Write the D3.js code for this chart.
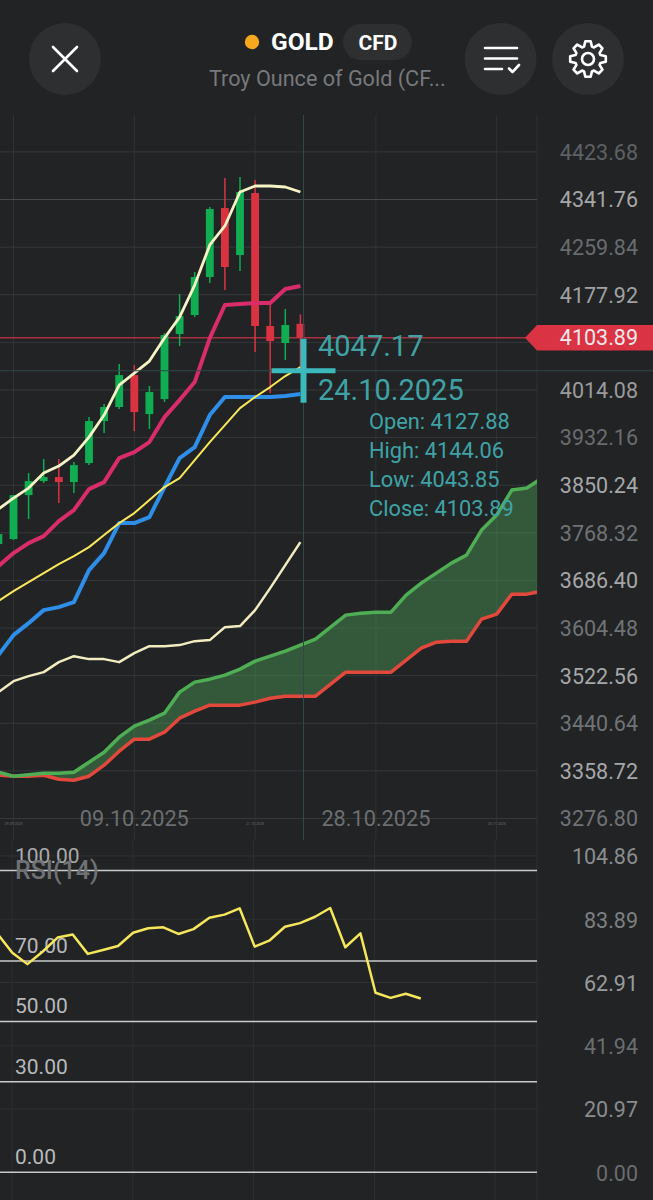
<!DOCTYPE html>
<html><head><meta charset="utf-8">
<script src="https://cdnjs.cloudflare.com/ajax/libs/d3/7.8.5/d3.min.js"></script>
<style>html,body{margin:0;padding:0;background:#212325;overflow:hidden}svg{display:block}text{font-family:Roboto,sans-serif}</style>
</head><body><svg id="c" width="653" height="1200"></svg>
<script>
// ---- data ----
const candleStart = -1;
const opens  = [3748.9,3757.5,3833.2,3857.3,3864.2,3855.6,3888.3,3960.6,3984.7,4039.7,3972.6,3998.4,4110.3,4143.0,4208.4,4327.1,4246.2,4352.9,4124.1,4094.8,4127.88];
const highs  = [3766.1,3833.2,3871.1,3895.2,3895.2,3890.0,3967.4,3989.8,4058.7,4056.9,4020.8,4112.0,4179.1,4217.0,4328.9,4378.8,4380.5,4375.3,4163.6,4153.3,4144.06];
const lows   = [3748.9,3755.8,3791.9,3853.9,3819.4,3836.6,3884.8,3939.9,3981.2,3943.3,3946.8,3993.3,4089.6,4139.5,4198.1,4186.0,4218.7,4079.3,4008.7,4065.5,4043.85];
const closes = [3766.1,3833.2,3857.3,3864.2,3855.6,3884.8,3960.6,3984.7,4039.7,3976.0,4010.5,4108.6,4141.3,4208.4,4325.4,4225.6,4354.7,4124.1,4098.2,4125.8,4103.89];
const fastMA = [3809.1,3828.0,3845.3,3871.1,3883.1,3902.0,3933.0,3970.9,4022.5,4043.2,4063.8,4103.4,4139.5,4194.6,4263.5,4296.2,4354.7,4365.0,4365.0,4363.3,4354.7];
const pinkMA = [3711.0,3733.4,3750.6,3762.6,3788.5,3807.4,3843.5,3855.6,3896.9,3907.2,3924.4,3967.4,3996.7,4027.7,4103.4,4160.2,4161.9,4163.6,4163.6,4187.7,4192.9];
const yellowMA = [3650.8,3668.0,3683.5,3699.0,3714.5,3728.2,3743.7,3764.4,3785.0,3802.2,3824.6,3847.0,3862.5,3893.4,3924.4,3953.7,3982.9,4001.9,4019.1,4038.0,4053.5];
const blueMA = [3557.8,3592.3,3612.9,3635.3,3640.5,3649.1,3704.1,3733.4,3785.0,3785.0,3795.3,3847.0,3896.9,3915.8,3970.9,4001.9,4001.9,4001.9,4001.9,4003.6,4007.0];
const slowMA = [3494.2,3513.1,3521.7,3528.6,3545.8,3556.1,3551.0,3551.0,3545.8,3561.3,3573.3,3573.3,3575.1,3581.9,3583.7,3606.0,3607.8,3635.3,3673.2,3712.7,3752.3];
const spanA = [3356.5,3349.6,3352.2,3354.8,3354.8,3356.5,3373.7,3390.9,3416.7,3435.7,3446.0,3458.0,3494.2,3511.4,3516.5,3523.4,3533.8,3547.5,3556.1,3564.7,3575.1,3585.4,3606.0,3626.7,3630.1,3631.8,3631.8,3661.1,3681.8,3699.0,3716.2,3729.9,3773.0,3798.8,3841.8,3845.3,3862.5];
const spanB = [3351.3,3349.6,3349.6,3351.3,3344.4,3342.7,3349.6,3368.5,3392.6,3413.3,3413.3,3425.3,3449.4,3461.5,3471.8,3471.8,3471.8,3477.0,3483.8,3487.3,3487.3,3487.3,3507.9,3528.6,3528.6,3528.6,3528.6,3549.2,3569.9,3580.2,3581.9,3581.9,3619.8,3628.4,3662.8,3662.8,3668.0];
const rsi = [79.2,72.8,69.0,73.1,77.8,78.8,72.4,73.7,75.0,79.4,80.9,81.2,79.0,80.6,84.4,85.4,87.5,74.8,76.9,81.4,82.6,84.7,87.6,74.6,79.2,59.5,57.8,59.2,57.6];
const priceTicks = [4423.68,4341.76,4259.84,4177.92,4096.00,4014.08,3932.16,3850.24,3768.32,3686.40,3604.48,3522.56,3440.64,3358.72,3276.80];
const priceTickColors = ["#5e6163","#a6a7a8","#696c6e","#a0a1a2",null,"#9a9b9c","#696c6e","#a6a7a8","#707375","#a6a7a8","#707375","#a6a7a8","#707375","#a6a7a8","#707375"];
const rsiAxisTicks = [104.86,83.89,62.91,41.94,20.97,0.00];
const rsiAxisColors = ["#8a8c8e","#7d8082","#9a9b9c","#6a6d6f","#8a8c8e","#6a6d6f"];
const rsiLevels = [100,70,50,30,0];
const gridBars = [0,8,16,24,32];
const bigDates = [["09.10.2025",8],["28.10.2025",24]];
const tinyDates = [["29.09.2025",0],["21.10.2025",16],["20.11.2025",32]];
const lastPrice = 4103.89, crossPrice = 4047.17, crossDate = "24.10.2025";
const ohlcLabels = ["Open: 4127.88","High: 4144.06","Low: 4043.85","Close: 4103.89"];

// ---- scales ----
const x = d3.scaleLinear().domain([0,32]).range([13.5,13.5+15.1*32]);
const y = d3.scaleLinear().domain([3276.80,4341.76]).range([818.5,199.5]);
const yR = d3.scaleLinear().domain([0,100]).range([1172.3,870.6]);
const svg = d3.select("#c");
const R = 537, W = 653;
svg.append("rect").attr("width",W).attr("height",1200).attr("fill","#212325");
svg.append("defs").append("clipPath").attr("id","plot").append("rect").attr("x",0).attr("y",115).attr("width",R).attr("height",725);

// ---- grid ----
const g = svg.append("g");
g.selectAll(".vt").data(gridBars).join("line").attr("x1",d=>x(d)).attr("x2",d=>x(d)).attr("y1",115).attr("y2",840).attr("stroke","#2f3336").attr("stroke-width",1);
g.selectAll(".vb").data(gridBars).join("line").attr("x1",d=>x(d)-1.5).attr("x2",d=>x(d)-1.5).attr("y1",840).attr("y2",1200).attr("stroke","#2d3032").attr("stroke-width",1);
g.append("line").attr("x1",R).attr("x2",R).attr("y1",115).attr("y2",1200).attr("stroke","#2f3336");
g.selectAll(".hp").data(priceTicks).join("line").attr("x1",0).attr("x2",R).attr("y1",d=>y(d)).attr("y2",d=>y(d)).attr("stroke",(d,i)=>i==1?"#45494b":"#36393b").attr("stroke-width",1);
g.selectAll(".hr").data(rsiAxisTicks.slice(0,5)).join("line").attr("x1",0).attr("x2",R).attr("y1",d=>yR(d)).attr("y2",d=>yR(d)).attr("stroke","#2e3133").attr("stroke-width",1);

// ---- cloud ----
const plot = svg.append("g").attr("clip-path","url(#plot)");
const ks = spanA.map((_,i)=>i-1);
plot.append("path").attr("d",d3.area().x(k=>x(k)).y0(k=>y(spanB[k+1])).y1(k=>y(spanA[k+1]))(ks)).attr("fill","rgb(73,155,84)").attr("fill-opacity",.45);

// current-price line
plot.append("line").attr("x1",0).attr("x2",530).attr("y1",y(lastPrice)).attr("y2",y(lastPrice)).attr("stroke","#a8323f").attr("stroke-width",1.5);

// ---- candles ----
const cs = opens.map((o,i)=>({k:i+candleStart,o,h:highs[i],l:lows[i],c:closes[i]}));
const col = d=>d.c>=d.o?"#10ad52":"#d93342";
const bw = x(0.52)-x(0);
plot.selectAll(".w").data(cs).join("line").attr("x1",d=>x(d.k)).attr("x2",d=>x(d.k)).attr("y1",d=>y(d.h)).attr("y2",d=>y(d.l)).attr("stroke",col).attr("stroke-width",1.5);
plot.selectAll(".b").data(cs).join("rect").attr("x",d=>x(d.k)-bw/2).attr("width",bw).attr("y",d=>y(Math.max(d.o,d.c))).attr("height",d=>Math.max(1,Math.abs(y(d.o)-y(d.c)))).attr("fill",col);

// ---- lines ----
const lineFrom = (arr,start)=>d3.line().x((d,i)=>x(i+start)).y(d=>y(d))(arr);
[[spanB,"#e2483b",3.5],[spanA,"#4fae54",3.5],[slowMA,"#f2ecc0",2.5],[blueMA,"#2f8fe8",4],[yellowMA,"#fbe85a",2],[pinkMA,"#d92c6b",4],[fastMA,"#f6f3c4",2.8]].forEach(([a,c,w])=>{
  plot.append("path").attr("d",lineFrom(a,-1)).attr("fill","none").attr("stroke",c).attr("stroke-width",w).attr("stroke-linejoin","round");
});

// ---- crosshair ----
const cx = 303.5, cy = y(crossPrice);
svg.append("line").attr("x1",cx).attr("x2",cx).attr("y1",115).attr("y2",840).attr("stroke","#314749").attr("stroke-width",1);
svg.append("line").attr("x1",0).attr("x2",W).attr("y1",cy).attr("y2",cy).attr("stroke","#314749").attr("stroke-width",1);
svg.append("line").attr("x1",cx).attr("x2",cx).attr("y1",cy-32).attr("y2",cy+32).attr("stroke","#3cb9bc").attr("stroke-width",6);
svg.append("line").attr("x1",cx-32).attr("x2",cx+32).attr("y1",cy).attr("y2",cy).attr("stroke","#3cb9bc").attr("stroke-width",5);
const teal="#3fa3a6";
svg.append("text").attr("x",318).attr("y",356).attr("font-size",29).attr("fill",teal).text(d3.format(".2f")(crossPrice));
svg.append("text").attr("x",318).attr("y",400).attr("font-size",29).attr("fill",teal).text(crossDate);
svg.selectAll(".o").data(ohlcLabels).join("text").attr("x",369).attr("y",(d,i)=>[429,458,487,516][i]).attr("font-size",21.8).attr("fill",teal).text(d=>d);

// ---- price axis ----
const pa = d3.axisRight(y).tickValues(priceTicks.filter((d,i)=>priceTickColors[i])).tickFormat(d3.format(".2f")).tickSize(0).tickPadding(0);
const pg = svg.append("g").attr("transform","translate(638,0.5)").call(pa);
pg.select(".domain").remove();
pg.selectAll("text").attr("x",0).attr("text-anchor","end").attr("font-size",21.5).attr("font-family","Roboto").attr("fill",d=>priceTickColors[priceTicks.indexOf(d)]);

// last-price tag
const ly = y(lastPrice);
svg.append("path").attr("d",`M525,${ly}L537,${ly-12.7}H${W}V${ly+12.7}H537Z`).attr("fill","#d93344");
svg.append("text").attr("x",638).attr("y",ly).attr("dy",".34em").attr("text-anchor","end").attr("font-size",21.5).attr("fill","#f4e9ea").text(d3.format(".2f")(lastPrice));

// ---- date axis ----
svg.selectAll(".bd").data(bigDates).join("text").attr("x",d=>x(d[1])).attr("y",826).attr("text-anchor","middle").attr("font-size",21.7).attr("fill","#6c6f71").text(d=>d[0]);
svg.selectAll(".td").data(tinyDates).join("text").attr("x",d=>x(d[1])).attr("y",825).attr("text-anchor","middle").attr("font-size",3.6).attr("fill","#6c6f71").text(d=>d[0]);

// ---- RSI ----
svg.selectAll(".lv").data(rsiLevels).join("line").attr("x1",0).attr("x2",R).attr("y1",d=>yR(d)).attr("y2",d=>yR(d)).attr("stroke","#c9caca").attr("stroke-width",1.5);
svg.selectAll(".lt").data(rsiLevels).join("text").attr("x",15).attr("y",d=>yR(d)-8).attr("font-size",21).attr("fill",d=>d==100?"#a8a9aa":"#b9baba").text(d=>d3.format(".2f")(d));
svg.append("text").attr("x",15).attr("y",879).attr("font-size",25).attr("font-weight",500).attr("fill","#6f7274").text("RSI(14)");
svg.append("path").attr("d",d3.line().x((d,i)=>x(i-1)-(i<14?1.2:0.4)).y(d=>yR(d))(rsi)).attr("fill","none").attr("stroke","#f5e65c").attr("stroke-width",2.5).attr("stroke-linejoin","round");
const ra = d3.axisRight(yR).tickValues(rsiAxisTicks).tickFormat(d3.format(".2f")).tickSize(0).tickPadding(0);
const rg = svg.append("g").attr("transform","translate(638,1)").call(ra);
rg.select(".domain").remove();
rg.selectAll("text").attr("x",0).attr("text-anchor","end").attr("font-size",21.5).attr("font-family","Roboto").attr("fill",d=>rsiAxisColors[rsiAxisTicks.indexOf(d)]);

// ---- header ----
const h = svg.append("g");
[65,500.5,588].forEach(c=>h.append("circle").attr("cx",c).attr("cy",59).attr("r",36).attr("fill","#2d2f31"));
const ic = {fill:"none",stroke:"#fff","stroke-width":2.6,"stroke-linecap":"round","stroke-linejoin":"round"};
const st = s=>{Object.entries(ic).forEach(([k,v])=>s.attr(k,v));return s;};
st(h.append("path").attr("d","M53,47L77,71M77,47L53,71"));
st(h.append("path").attr("d","M485,48H517M485,58.5H517M485,69H502M509,68.5L512.5,72L519,65"));
const gear = [];
for(let i=0;i<8;i++){const a=i*Math.PI/4-Math.PI/2,t=.27;
  [[18,a-t*.55],[18,a+t*.55],[13,a+t*1.15],[13,a+Math.PI/4-t*1.15]].forEach(([r,b])=>gear.push([588+r*Math.cos(b),59+r*Math.sin(b)]));}
st(h.append("path").attr("d",d3.line().curve(d3.curveLinearClosed)(gear)));
st(h.append("circle").attr("cx",588).attr("cy",59).attr("r",6));
h.append("circle").attr("cx",252).attr("cy",42).attr("r",7.2).attr("fill","#f7a81f");
h.append("text").attr("x",271).attr("y",50).attr("font-size",24.5).attr("font-weight",700).attr("fill","#fff").text("GOLD");
h.append("rect").attr("x",343).attr("y",24).attr("width",69).attr("height",36).attr("rx",18).attr("fill","#2d2f31");
h.append("text").attr("x",378).attr("y",49.5).attr("text-anchor","middle").attr("font-size",21).attr("font-weight",700).attr("fill","#fff").text("CFD");
h.append("text").attr("x",209).attr("y",86).attr("font-size",21.6).attr("fill","#77797b").text("Troy Ounce of Gold (CF...");
</script></body></html>
